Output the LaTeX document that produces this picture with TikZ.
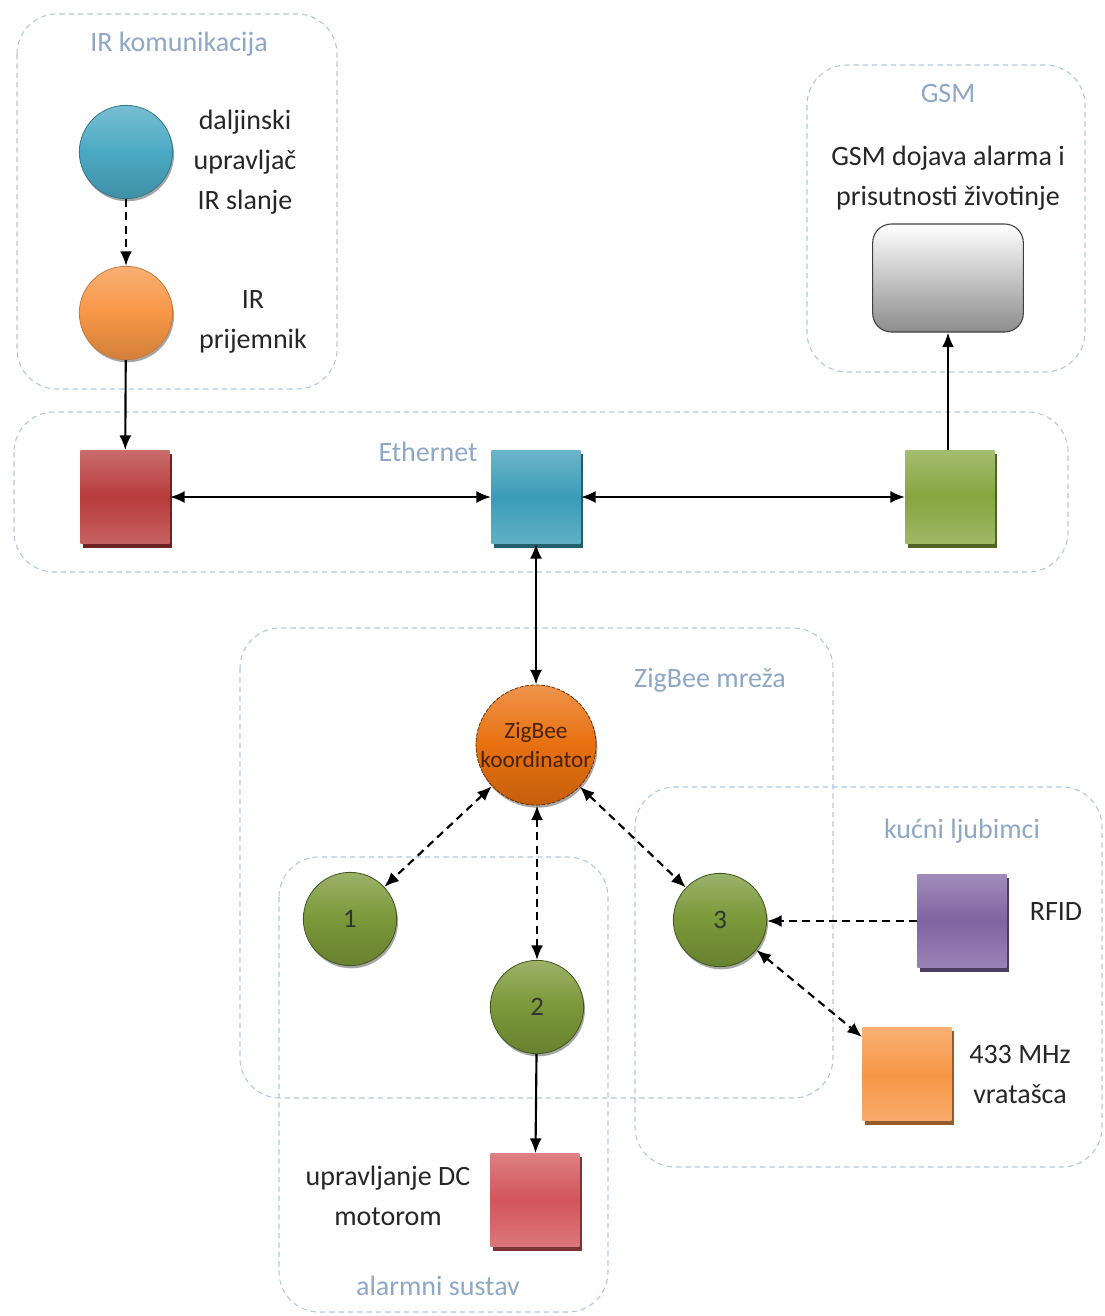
\documentclass[tikz,border=0pt]{standalone}
\usepackage{fontspec}
\setmainfont{Carlito}
\usetikzlibrary{shadows,arrows.meta}

\definecolor{grpline}{HTML}{AFC7DC}
\definecolor{grptext}{HTML}{8EA7C5}
\definecolor{irblue}{HTML}{4BA9C3}
\definecolor{irorange}{HTML}{F79646}
\definecolor{ethred}{HTML}{B83B3B}
\definecolor{ethblue}{HTML}{3A9CB8}
\definecolor{ethgreen}{HTML}{86A640}
\definecolor{zbgreen}{HTML}{7A9838}
\definecolor{zborange}{HTML}{E8700F}
\definecolor{rfidpurple}{HTML}{8064A2}
\definecolor{motorred}{HTML}{D2555A}

\tikzset{
  grp/.style={draw=grpline, dash pattern=on 4pt off 3pt, rounded corners=30pt, line width=0.8pt},
  grptitle/.style={text=grptext, font=\fontsize{21}{24}\selectfont},
  lbl/.style={align=center, font=\fontsize{21}{30}\selectfont, text=black!85},
  box/.style={minimum width=67pt, minimum height=70pt, inner sep=0pt,
    top color=#1!75!white, bottom color=#1!80!white, middle color=#1,
    drop shadow={shadow xshift=2pt, shadow yshift=-3pt, opacity=1, fill=#1!60!black}},
  dot/.style={circle, minimum size=70pt, inner sep=0pt, draw=#1!55!black, line width=0.6pt,
    top color=#1!75!white, bottom color=#1!85!black, middle color=#1,
    drop shadow={shadow xshift=1pt, shadow yshift=-2pt, opacity=0.35, fill=black}},
  link/.style={line width=1.6pt, >={Latex[length=11pt,width=9pt]}},
  dlink/.style={link, dash pattern=on 6pt off 4pt},
}

\begin{document}
\begin{tikzpicture}[x=0.75pt,y=0.75pt,yscale=-1,xscale=1]
	\path[use as bounding box] (0,0) rectangle (1104,1316);

	%Shape: Group boxes
	\draw[grp] (17,14) rectangle (337,389);
	\draw[grp] (807,65) rectangle (1085,372);
	\draw[grp] (14,412) rectangle (1068,572);
	\draw[grp] (240,628) rectangle (833,1098);
	\draw[grp] (635,787) rectangle (1102,1167);
	\draw[grp] (279,857) rectangle (608,1312);

	% Group titles
	\node[grptitle] (tir) at (179,44) {IR komunikacija};
	\node[grptitle] (tgsm) at (948,94) {GSM};
	\node[grptitle] (teth) at (428,452) {Ethernet};
	\node[grptitle] (tzb) at (710,680) {ZigBee mreža};
	\node[grptitle] (tpet) at (962,831) {kućni ljubimci};
	\node[grptitle] (talarm) at (438,1286) {alarmni sustav};

	%Shape: IR part
	\node[dot=irblue, draw=irblue!70!black] (remote) at (126,152) {};
	\node[dot=irorange, draw=irorange!80!black] (irrx) at (126,313) {};
	\node[lbl] (tremote) at (245,162) {daljinski\\upravljač\\IR slanje};
	\node[lbl] (tirrx) at (253,322) {IR\\prijemnik};

	%Shape: GSM unit
	\node[draw=black!75, line width=0.8pt, rounded corners=14pt, minimum width=113pt, minimum height=81pt,
	  top color=white, bottom color=black!45] (gsmunit) at (948,278) {};
	\node[lbl] (tgsmunit) at (948,178) {GSM dojava alarma i\\prisutnosti životinje};

	%Shape: Ethernet nodes
	\node[box=ethred] (ethred) at (125,497) {};
	\node[box=ethblue] (ethhub) at (536,497) {};
	\node[box=ethgreen] (ethgsm) at (950,497) {};

	%Shape: ZigBee nodes
	\node[dot=zborange, minimum size=88pt, draw=zborange!45!black, dash pattern=on 3pt off 1pt,
	  align=center, text=zborange!30!black, font=\fontsize{17.5}{22}\selectfont] (coord) at (536,745) {ZigBee\\koordinator};
	\node[dot=zbgreen, font=\fontsize{20}{22}\selectfont, text=black!80] (nodeone) at (350,919) {1};
	\node[dot=zbgreen, font=\fontsize{20}{22}\selectfont, text=black!80] (nodetwo) at (537,1007) {2};
	\node[dot=zbgreen, font=\fontsize{20}{22}\selectfont, text=black!80] (nodethree) at (720,920) {3};

	%Shape: pets and alarm
	\node[box=rfidpurple] (rfid) at (962,921) {};
	\node[box=irorange] (door) at (907,1074) {};
	\node[box=motorred] (motor) at (535,1200) {};
	\node[lbl] (trfid) at (1056,912) {RFID};
	\node[lbl] (tdoor) at (1020,1075) {433 MHz\\vratašca};
	\node[lbl] (tmotor) at (388,1196) {upravljanje DC\\motorom};

	%Straight Lines
	\draw[dlink,->] (remote) -- (irrx);
	\draw[link,->] (irrx) -- (ethred);
	\draw[link,<->] (ethred) -- (ethhub);
	\draw[link,<->] (ethhub) -- (ethgsm);
	\draw[link,->] (ethgsm.north -| gsmunit.south) -- (gsmunit);
	\draw[link,<->] (ethhub) -- (coord);
	\draw[dlink,<->] (coord) -- (nodeone);
	\draw[dlink,<->] (coord.south -| nodetwo) -- (nodetwo);
	\draw[dlink,<->] (coord) -- (nodethree);
	\draw[dlink,->] (rfid) -- (rfid -| nodethree.east);
	\draw[dlink,<->] (nodethree) -- (door);
	\draw[link,->] (nodetwo) -- (motor);

\end{tikzpicture}
\end{document}
